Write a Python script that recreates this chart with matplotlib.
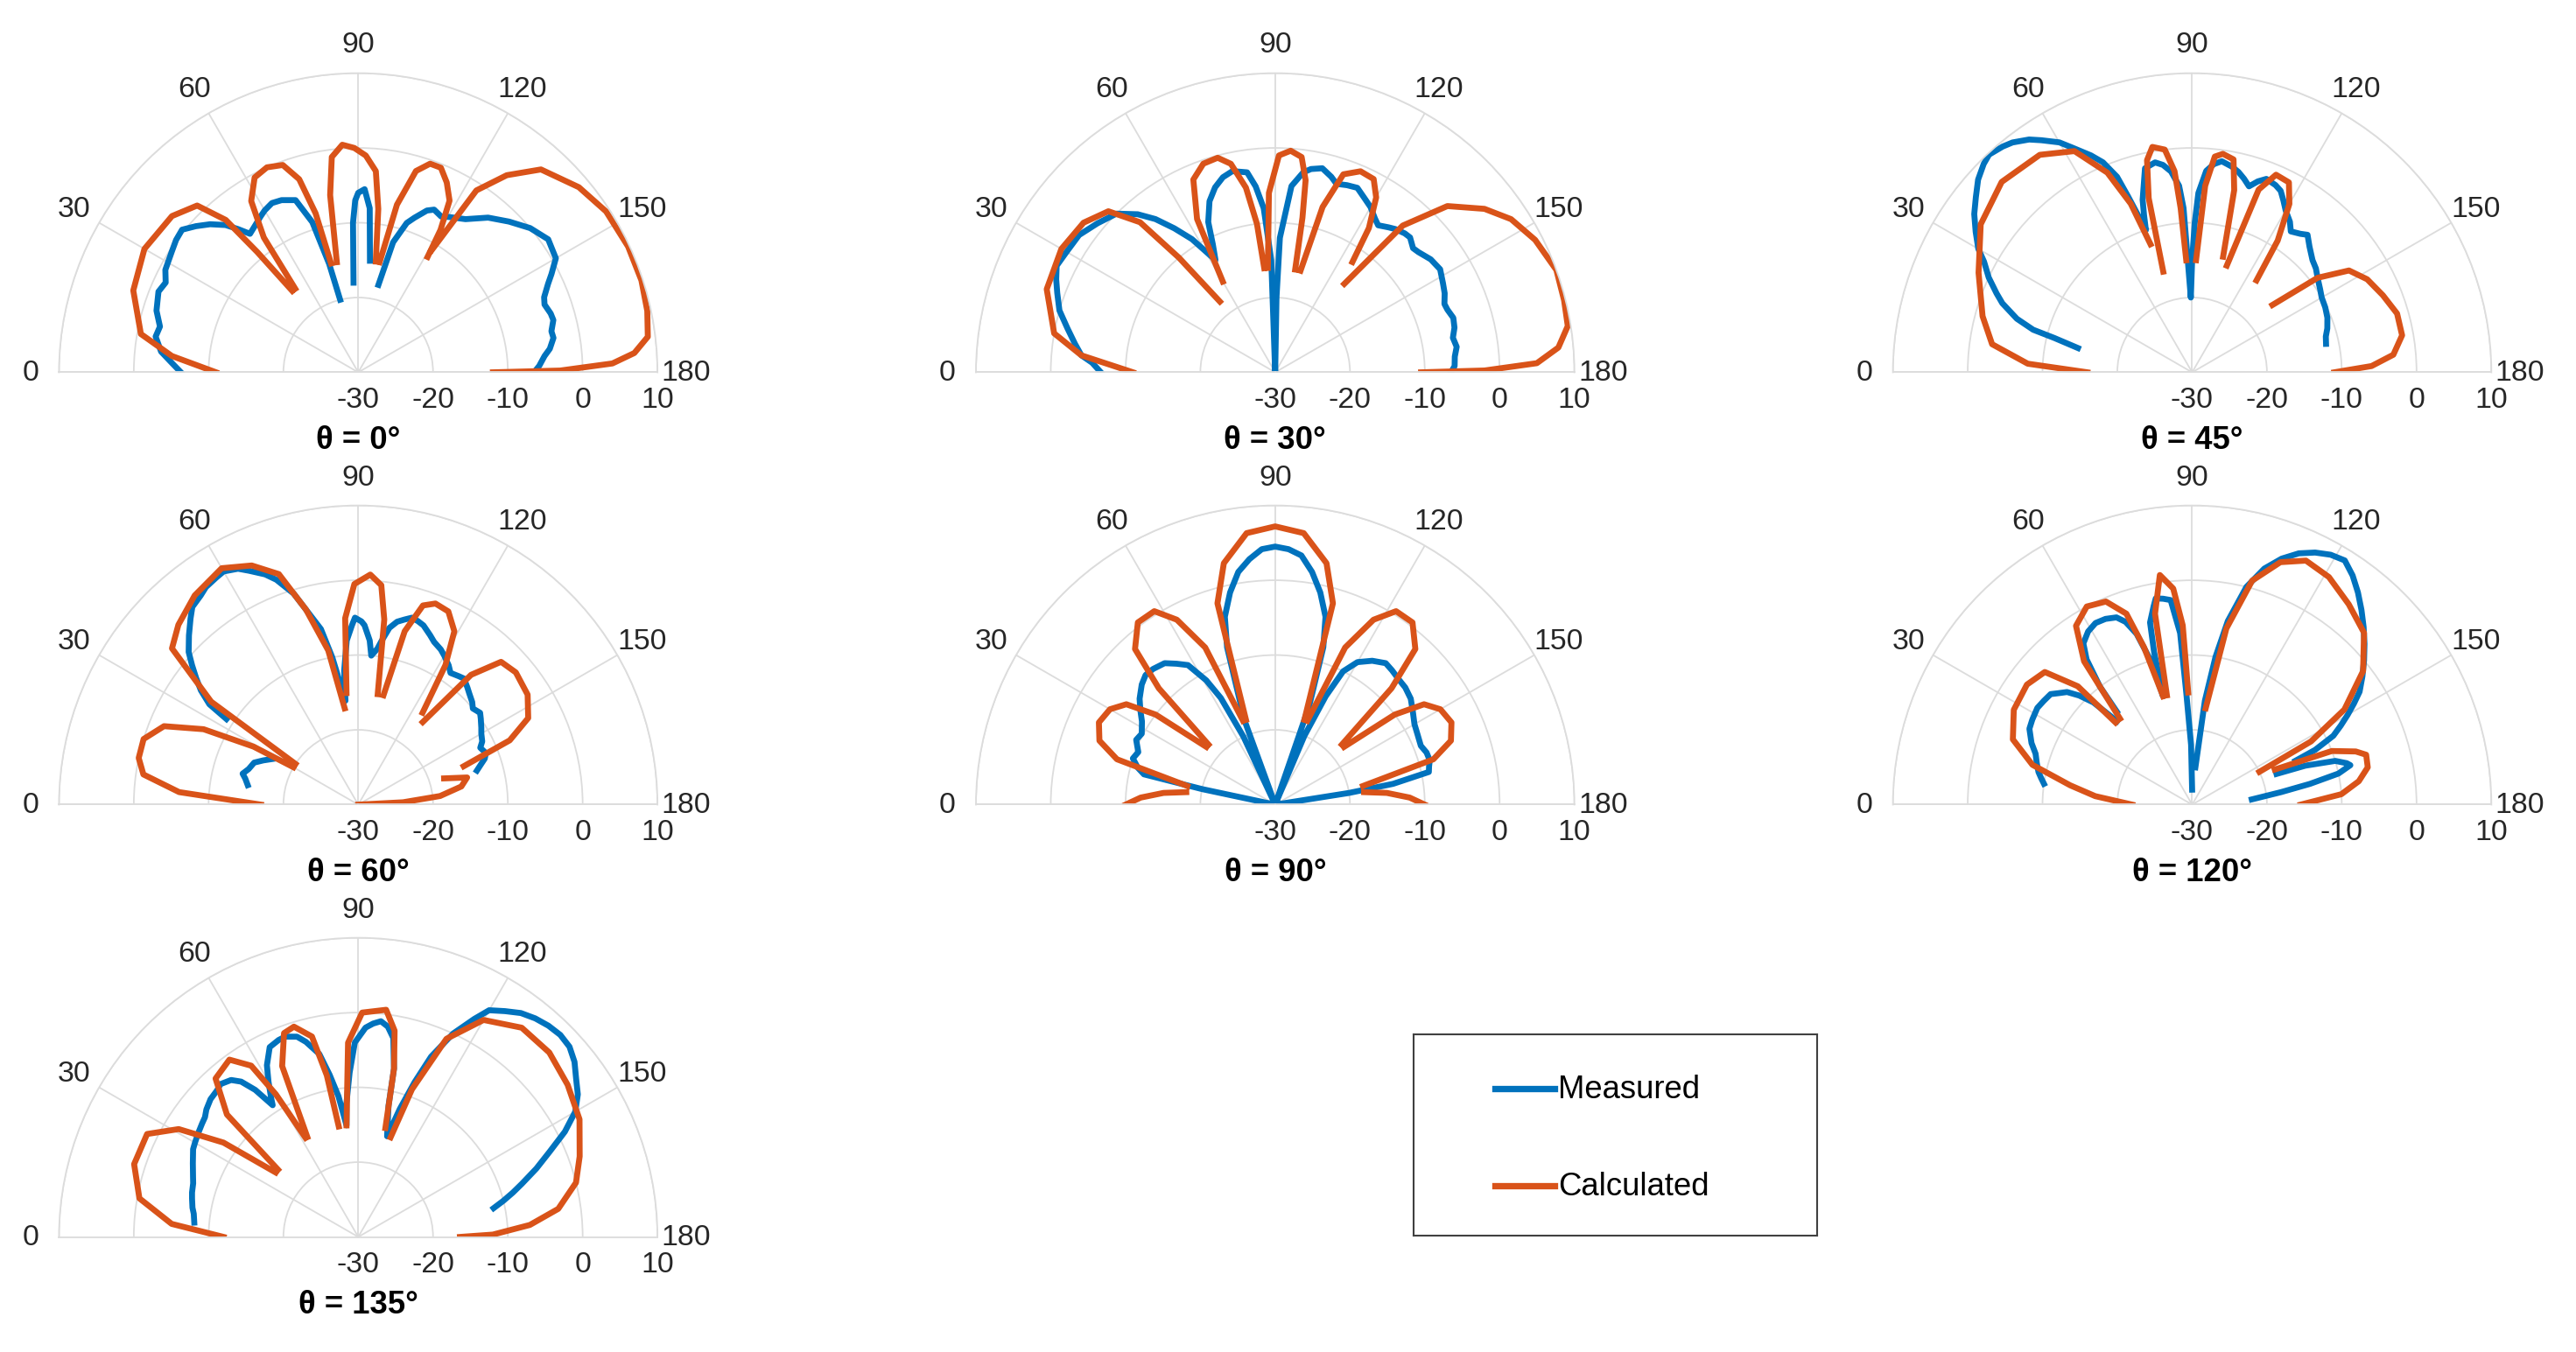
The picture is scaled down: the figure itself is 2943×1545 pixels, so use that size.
import numpy as np
import matplotlib
matplotlib.use("Agg")
import matplotlib.pyplot as plt

N = np.nan
titles = ["θ = 0°", "θ = 30°", "θ = 45°", "θ = 60°", "θ = 90°", "θ = 120°", "θ = 135°"]
theta_ticks = [0, 30, 60, 90, 120, 150, 180]
r_ticks = [-30, -20, -10, 0, 10]

# ---- calculated (angle deg, dB); NaN separates lobes ----
calc_0 = [(0,-11),(5,-5),(10,-0.5),(20,2),(30,3),(40,2.5),(46,1),(49,-3),(50,-9),(51,-16),(N,N),
          (53,-16),(55,-8),(58,-3),(62,-0.5),(66,0),(70,-0.5),(73,-3),(75,-8),(76,-15),(N,N),
          (79,-15),(81,-6),(83,-1),(86,0.5),(89,0),(92,-1),(95,-3),(97,-8),(99,-15),(N,N),
          (101,-15),(103,-7),(106,-2),(109,-0.5),(112,-0.5),(115,-2),(118,-4),(120,-8),(121,-12),(N,N),
          (121,-11),(123,-1),(127,3),(132,6.5),(140,8.5),(147,9.5),(155,9.8),(162,9.8),(168,9.5),(173,9),(176,7),(178,4),(179.5,-3),(180,-12)]
calc_30 = [(0,-11),(5,-4),(10,0),(20,2.5),(30,3),(38,2.5),(44,1),(48,-3),(50,-10),(52,-18),(N,N),
           (60,-16),(63,-7),(67,-2),(71,-0.5),(75,-0.3),(78,-1.5),(81,-5),(83,-10),(84,-16),(N,N),
           (86,-16),(88,-6),(91,-1),(94,-0.3),(97,-1),(99,-4),(100,-9),(101,-16),(N,N),
           (104,-16),(106,-7),(109,-2),(113,-0.8),(117,-1),(120,-3),(123,-7),(125,-12),(N,N),
           (128,-15),(131,-4),(136,2),(142,5.5),(147,7.6),(153,9),(160,10),(166,9.8),(171,9.6),(175,8),(178,5),(179.5,-2),(180,-10.5)]
calc_45 = [(0,-16),(3,-8),(8,-3),(15,-1),(25,1.5),(35,4.5),(45,6),(55,5.5),(62,3.5),(67,-1),(70,-6),(72,-12),(N,N),
           (74,-16),(76,-6),(78,-1),(80,0.6),(83,0),(85,-3),(86,-8),(87,-15),(N,N),
           (92,-15),(94,-5),(96,-1),(98,-0.5),(101,-1),(103,-5),(105,-14),(N,N),
           (108,-15),(110,-4),(113,-1.3),(117,-1.5),(120,-4),(123,-9),(125,-15),(N,N),
           (140,-16),(143,-9),(147,-5),(152,-3.5),(158,-2.5),(164,-1.5),(170,-1.5),(175,-3),(178,-6),(180,-11)]
calc_60 = [(0,-17),(4,-6),(8,-1),(12,0),(17,0),(22,-2),(26,-7),(29,-14),(30,-20),(N,N),
           (33,-20),(35,-6),(40,2.5),(45,4),(52,5.5),(60,6.5),(66,5),(71,2.6),(75,-3),(79,-9),(82,-17),(N,N),
           (84,-15),(86,-5),(89,-0.5),(93,0.8),(96,-0.5),(98,-5),(100,-15),(N,N),
           (103,-15),(105,-6),(108,-2),(111,-1.2),(115,-1.5),(119,-3.5),(122,-8),(125,-15),(N,N),
           (128,-16),(131,-7),(135,-3),(140,-2.5),(147,-3),(153,-4.5),(157,-8),(160,-15),(N,N),
           (163,-18),(166,-15),(170,-16),(174,-19),(177,-24),(180,-30)]
calc_90 = [(0,-10),(3,-12),(6,-15),(8,-18),(N,N),
           (12,-18),(16,-8),(20,-5),(25,-4),(30,-4.5),(34,-6),(37,-10),(40,-18),(N,N),
           (42,-18),(45,-8),(48,-2),(53,0.5),(58,0.5),(62,-2),(66,-7),(69,-18),(N,N),
           (71,-18),(74,-2),(78,3),(84,6.5),(90,7.2),(96,6.5),(102,3),(106,-2),(109,-18),(N,N),
           (111,-18),(114,-7),(118,-2),(122,0.5),(127,0.5),(132,-2),(135,-8),(138,-18),(N,N),
           (140,-18),(143,-10),(146,-6),(150,-4.5),(155,-4),(160,-5),(164,-8),(168,-18),(N,N),
           (172,-18),(174,-15),(177,-12),(180,-10)]
calc_120 = [(0,-22),(5,-17),(9,-13.5),(14,-8),(20,-4.5),(28,-3),(36,-2.7),(42,-3.5),(46,-8),(47,-15),(N,N),
            (50,-15),(53,-6),(57,-1.5),(62,0),(67,-0.5),(71,-3),(73,-8),(75,-15),(N,N),
            (77,-15),(79,-4),(82,1),(85,-1),(87,-6),(88,-15),(N,N),
            (98,-17),(101,-6),(105,1),(110,4.5),(115,6),(121,5.5),(128,4),(135,2.5),(142,-1),(148,-6),(152,-12),(154,-20),(N,N),
            (157,-18),(159,-10),(162,-7),(164,-5.8),(168,-6),(172,-7.5),(176,-10),(180,-15.5)]
calc_135 = [(0,-12),(4,-5),(10,-0.3),(18,1.5),(26,1.4),(31,-2),(35,-8),(38,-16),(N,N),
            (40,-16),(43,-6),(48,-1.5),(54,-0.7),(58,-3),(60,-8),(62,-15),(N,N),
            (63,-15),(66,-5),(70,-1),(73,-0.6),(77,-2.5),(79,-8),(80,-15),(N,N),
            (84,-15),(87,-4),(91,0),(97,0.6),(100,-2),(102,-7),(104,-15),(N,N),
            (108,-16),(110,-9),(114,-1),(120,3.5),(128,5.5),(136,5.5),(144,4.6),(152,3.5),(160,1.5),(166,0),(172,-3),(176,-7),(179,-12),(180,-16.4)]

# ---- measured ----
meas_0 = [(0,-6.3),(3,-5),(6,-3.5),(10,-2.5),(13,-2.8),(17,-1.8),(22,-1.2),(25,-1.6),(28,-0.8),(33,-0.3),(36,0.1),(39,0.3),(42,-0.8),(45,-2),(48,-3.5),(50,-5),(52,-6.5),(55,-6),(58,-5.4),(60,-5),(63,-4.6),(66,-4.8),(70,-5.5),(73,-9),(75,-15),(76,-20),(N,N),
          (87,-18),(88,-10),(89,-7),(90,-6),(92,-5.5),(94,-8),(96,-15),(N,N),
          (103,-18),(105,-12),(108,-9),(110,-8),(113,-6.5),(115,-6),(118,-6.4),(120,-6),(125,-5),(130,-3),(135,-1.5),(140,0),(145,1),(150,0.5),(153,-1),(155,-2),(158,-3.2),(160,-3.5),(163,-3.1),(165,-3),(168,-3.6),(170,-3.5),(173,-4.2),(175,-5),(178,-5.8),(180,-6.5)]
meas_30 = [(0,-6.7),(3,-5.5),(5,-4),(8,-3),(12,-1.6),(16,0),(20,1),(23,1.8),(26,2.5),(30,2.2),(35,2),(40,1),(45,0),(49,-2),(52,-4),(55,-6.5),(58,-9),(62,-13),(64,-11),(66,-8),(69,-5.5),(72,-4),(75,-3),(78,-2.5),(82,-3),(84,-5),(86,-8),(88,-15),(90,-30),(91,-20),(92,-12),(95,-5),(98,-3),(100,-2.4),(103,-2),(106,-2.8),(108,-3.5),(111,-3.2),(114,-3),(117,-3.8),(120,-4.5),(123,-5.5),(125,-6),(128,-5.4),(130,-5),(133,-4.6),(135,-4.5),(138,-5.2),(140,-5),(144,-4.3),(148,-4),(152,-4.6),(155,-5),(158,-5.6),(160,-5.5),(163,-5.1),(166,-5.3),(169,-5.8),(172,-5.5),(175,-5.9),(178,-6),(180,-6.5)]
meas_45 = [(12,-14.4),(14,-11),(15,-8),(17,-5.5),(20,-3),(22,-1.8),(25,0),(28,1.5),(30,3),(33,4.5),(36,6),(39,7.2),(42,8.5),(45,9.4),(47,9.8),(50,9.4),(52,9),(55,8),(57,7),(60,5.5),(62,4),(65,2),(67,0.5),(69,-2),(70,-5),(72,-10),(73,-8),(74,-6),(77,-2),(80,-1.5),(82,-2),(84,-3),(86,-5),(87,-8),(89,-20),(90,-15),(91,-10),(92,-6),(94,-3),(96,-2),(98,-1.5),(101,-2),(103,-2.5),(105,-3.2),(107,-4),(109,-3),(111,-2.3),(114,-2.6),(116,-3),(118,-4),(120,-5),(123,-6),(125,-7),(128,-6.5),(130,-6),(133,-7),(137,-8),(140,-8.4),(143,-9),(147,-9.6),(150,-10),(154,-10.2),(158,-10.5),(162,-11),(165,-11.5),(168,-11.7)]
meas_60 = [(10,-15),(13,-14.5),(15,-14),(18,-14.6),(22,-15),(25,-16),(28,-17),(N,N),
           (33,-9),(34,-6),(36,-4),(38,-2.5),(40,-1),(42,0.5),(45,2),(48,3.5),(50,4.5),(53,5),(55,5.5),(58,5.8),(60,6),(63,5.4),(65,4.5),(68,3.2),(70,2),(73,-0.5),(75,-3),(78,-6),(80,-10),(83,-16),(84,-12),(86,-8),(88,-6),(89,-5),(91,-5.5),(92,-6),(94,-8),(95,-10),(97,-9),(98,-8),(100,-6),(102,-5),(104,-4.5),(106,-4),(108,-4.2),(110,-4.5),(113,-5.4),(115,-6),(118,-6.5),(120,-7),(123,-7.8),(125,-8.5),(128,-8.2),(130,-8),(133,-8.6),(135,-9),(138,-9.5),(140,-10),(143,-9.6),(145,-10),(148,-10.6),(150,-11),(153,-11.4),(155,-12),(158,-11.6),(160,-12),(162,-12.8),(164,-13.5)]
meas_90 = [(10,-30),(12,-20),(13,-12),(15,-11),(18,-10),(21,-10.4),(25,-9.5),(28,-9.8),(32,-9),(35,-8),(38,-7),(42,-6),(45,-5.5),(48,-5.6),(52,-6),(55,-7),(58,-8),(61,-11),(63,-14),(65,-20),(67,-30),(70,-18),(73,-8),(75,-4),(78,-1),(81,1.5),(84,3),(87,4.2),(90,4.5),(93,4.2),(96,3.5),(99,1.5),(102,-1),(105,-4),(107,-8),(109,-16),(111,-30),(113,-20),(115,-14),(117,-10),(120,-8),(124,-6.8),(128,-6),(131,-6.2),(135,-6.5),(138,-6.6),(142,-7),(146,-7.8),(150,-8.5),(154,-8.8),(158,-9),(161,-8.6),(164,-8.5),(166,-8.8),(168,-9),(170,-14),(171,-20),(172,-30)]
meas_120 = [(8,-10),(10,-9.5),(12,-9),(15,-8.5),(18,-8),(21,-7),(25,-6),(28,-5.8),(32,-5.6),(35,-5.8),(38,-6),(40,-6.8),(42,-7.5),(44,-9),(46,-11),(48,-15),(N,N),
            (51,-14),(52,-10),(54,-6),(56,-4),(59,-3),(62,-2.5),(65,-2.6),(68,-3),(70,-4),(72,-6),(74,-10),(75,-15),(76,-9),(77,-5),(79,-3),(80,-2),(82,-2.2),(84,-2.5),(86,-7),(87,-15),(89,-22),(90,-28),(N,N),
            (95,-25),(97,-16),(99,-10),(101,-5),(104,0),(107,3),(110,5),(113,6.5),(116,7.5),(119,8.2),(122,8.5),(125,7.4),(128,6),(131,4.5),(134,3),(137,1.5),(140,0),(143,-1.5),(146,-3),(148,-4.5),(150,-6),(152,-7.5),(154,-9),(156,-12),(157,-15),(N,N),
            (160,-18),(161,-14),(163,-10),(165,-8.6),(166,-8.2),(168,-10),(170,-14),(172,-18),(175,-22)]
meas_135 = [(5,-8),(8,-7.8),(10,-7.5),(13,-7.2),(15,-7),(18,-6.8),(20,-6.5),(24,-5.8),(28,-5),(30,-4.8),(33,-4.5),(36,-4.2),(38,-4),(40,-3.5),(43,-3),(46,-2.8),(48,-2.5),(51,-3),(53,-4),(55,-6),(57,-9),(58,-8),(60,-6),(62,-4),(65,-2),(68,-1.6),(70,-1.5),(73,-2),(75,-3),(78,-5),(80,-8),(82,-11),(84,-15),(85,-12),(87,-8),(89,-4),(92,-2),(94,-1.4),(96,-1),(98,-1.6),(100,-3),(102,-7),(103,-12),(106,-16),(108,-12),(110,-8),(112,-4),(115,0),(118,3),(120,5),(123,6),(126,7),(129,7.6),(132,8),(135,8.2),(138,8),(141,7.2),(144,6),(147,5),(150,3.5),(153,1),(156,-2),(159,-4.5),(162,-7),(164,-8.5),(166,-10),(168,-11.5)]

calcs = [calc_0, calc_30, calc_45, calc_60, calc_90, calc_120, calc_135]
meass = [meas_0, meas_30, meas_45, meas_60, meas_90, meas_120, meas_135]

BLUE = "#0072BD"
ORANGE = "#D95319"
GRID = "#DCDCDC"

fig = plt.figure(figsize=(15.7, 8.245), dpi=187.5)
plt.rcParams['font.family'] = ['Arial', 'Liberation Sans', 'DejaVu Sans']

W, H = 1568.0, 823.0
R = 182.0
centers = [(218, 227), (776, 227), (1334, 227),
           (218, 490), (776, 490), (1334, 490),
           (218, 753)]

for i, (cx, cy) in enumerate(centers):
    # box sized so the drawn half-disc has radius R centred at (cx, cy)
    rect = [(cx - 2 * R) / W, 1 - (cy + 0.5 * R) / H, 4 * R / W, 2 * R / H]
    ax = fig.add_axes(rect, projection='polar')
    ax.set_thetamin(0)
    ax.set_thetamax(180)
    ax.set_theta_zero_location('W')
    ax.set_theta_direction(-1)
    ax.set_ylim(-30, 10)
    ax.set_thetagrids(theta_ticks, [str(t) for t in theta_ticks], fontsize=13, color='#262626')
    ax.set_rgrids(r_ticks, [''] * len(r_ticks))
    ax.tick_params(axis='x', pad=2)
    ax.grid(True, color=GRID, lw=0.7)
    for s in ax.spines.values():
        s.set_color(GRID)
        s.set_linewidth(0.7)
    ax.patch.set_alpha(0)
    for r in r_ticks:
        ax.annotate(str(r), xy=(np.pi, r), xytext=(0, -6), textcoords='offset points',
                    ha='center', va='top', fontsize=13, color='#262626', annotation_clip=False)
    c = np.array(calcs[i], dtype=float)
    m = np.array(meass[i], dtype=float)
    ax.plot(np.radians(m[:, 0]), m[:, 1], color=BLUE, lw=2.6, clip_on=True)
    ax.plot(np.radians(c[:, 0]), c[:, 1], color=ORANGE, lw=2.6, clip_on=True)
    fig.text(cx / W, 1 - (cy + 41) / H, titles[i], ha='center', va='center',
             fontsize=14, fontweight='bold')

# legend box
lax = fig.add_axes([860 / W, 1 - 752 / H, 246 / W, 122 / H])
lax.set_xlim(0, 246)
lax.set_ylim(122, 0)
lax.set_xticks([])
lax.set_yticks([])
for s in lax.spines.values():
    s.set_color('#404040')
    s.set_linewidth(0.8)
lax.plot([50, 86], [33, 33], color=BLUE, lw=2.8)
lax.plot([50, 86], [92, 92], color=ORANGE, lw=2.8)
lax.text(88, 33, "Measured", va='center', ha='left', fontsize=14)
lax.text(88, 92, "Calculated", va='center', ha='left', fontsize=14)

fig.savefig("out.png", dpi=187.5)
